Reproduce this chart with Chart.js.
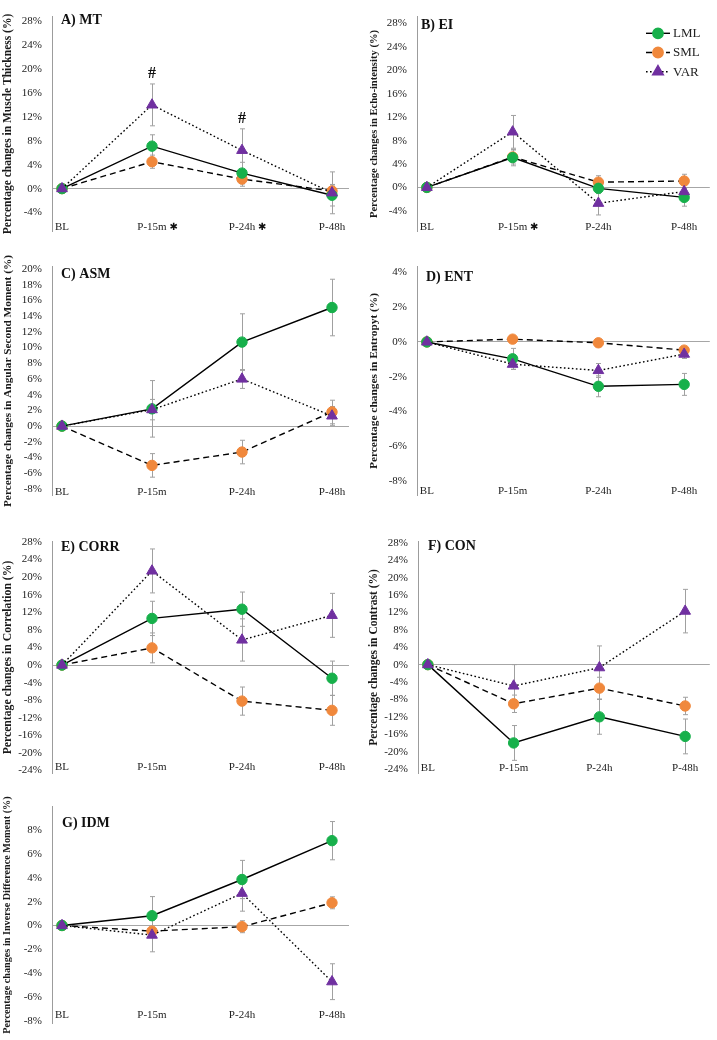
<!DOCTYPE html>
<html>
<head>
<meta charset="utf-8">
<script src="https://cdn.jsdelivr.net/npm/chart.js@4.4.1/dist/chart.umd.min.js"></script>
<style>
  html, body { margin: 0; padding: 0; background: #fff; }
  #wrap { position: relative; width: 717px; height: 1040px; overflow: hidden; }
  #wrap canvas { position: absolute; }
</style>
</head>
<body>
<div id="wrap">
  <canvas id="mt"></canvas>
  <canvas id="ei"></canvas>
  <canvas id="asm"></canvas>
  <canvas id="ent"></canvas>
  <canvas id="corr"></canvas>
  <canvas id="con"></canvas>
  <canvas id="idm"></canvas>
</div>
<script>
const timepoints = ['BL', 'P-15m', 'P-24h', 'P-48h'];
const seriesNames = ['LML', 'SML', 'VAR'];

// A) MT
const mtLML = [0, 7.1, 2.6, -1.1];
const mtSML = [0, 4.5, 1.6, -0.4];
const mtVAR = [0, 14.0, 6.4, -0.7];
const mtErrLML = [0, 1.9, 1.8, 1.8];
const mtErrSML = [0, 1.1, 1.2, 1.0];
const mtErrVAR = [0, 3.5, 3.6, 3.5];
const mtHashAt = [1, 2];
const mtHashY = [19.2, 11.6];
const mtStars = [1, 2];

// B) EI
const eiLML = [0, 5.1, -0.15, -1.7];
const eiSML = [0, 5.2, 0.9, 1.1];
const eiVAR = [0, 9.5, -2.7, -0.7];
const eiErrLML = [0, 1.4, 0.9, 1.5];
const eiErrSML = [0, 1.2, 1.1, 1.15];
const eiErrVAR = [0, 2.8, 2.0, 0.5];
const eiStars = [1];

// C) ASM
const asmLML = [0, 2.2, 10.7, 15.1];
const asmSML = [0, -5.0, -3.3, 1.8];
const asmVAR = [0, 2.1, 6.0, 1.3];
const asmErrLML = [0, 3.6, 3.6, 3.6];
const asmErrSML = [0, 1.5, 1.5, 1.5];
const asmErrVAR = [0, 1.3, 1.2, 1.2];

// D) ENT
const entLML = [0, -0.97, -2.55, -2.44];
const entSML = [0, 0.16, -0.05, -0.47];
const entVAR = [0, -1.28, -1.64, -0.7];
const entErrLML = [0, 0.6, 0.6, 0.63];
const entErrSML = [0, 0.1, 0.1, 0.1];
const entErrVAR = [0, 0.3, 0.4, 0.25];

// E) CORR
const corrLML = [0, 10.6, 12.7, -3.0];
const corrSML = [0, 3.9, -8.2, -10.3];
const corrVAR = [0, 21.4, 5.7, 11.3];
const corrErrLML = [0, 3.9, 3.9, 3.9];
const corrErrSML = [0, 3.4, 3.2, 3.4];
const corrErrVAR = [0, 5.0, 4.8, 5.0];

// F) CON
const conLML = [0, -18.0, -12.0, -16.5];
const conSML = [0, -9.0, -5.4, -9.5];
const conVAR = [0, -4.9, -0.7, 12.3];
const conErrLML = [0, 4.0, 4.0, 4.0];
const conErrSML = [0, 2.0, 2.5, 2.0];
const conErrVAR = [0, 4.9, 5.0, 5.0];

// G) IDM
const idmLML = [0, 0.82, 3.85, 7.1];
const idmSML = [0, -0.47, -0.1, 1.9];
const idmVAR = [0, -0.8, 2.7, -4.7];
const idmErrLML = [0, 1.6, 1.6, 1.6];
const idmErrSML = [0, 0.3, 0.5, 0.5];
const idmErrVAR = [0, 1.4, 1.5, 1.5];

const SERIF = "'Liberation Serif', 'Times New Roman', serif";
const GREEN = '#17b04b';
const ORANGE = '#f0883c';
const PURPLE = '#7030a0';

// error bars, panel title, # marks, asterisks and legend
const decoPlugin = {
  id: 'deco',
  beforeDatasetsDraw(chart) {
    const ctx = chart.ctx;
    const y = chart.scales.y;
    ctx.save();
    ctx.strokeStyle = '#a0a0a0';
    ctx.lineWidth = 1;
    chart.data.datasets.forEach((ds, di) => {
      const meta = chart.getDatasetMeta(di);
      meta.data.forEach((pt, i) => {
        const e = ds.errorBars[i];
        if (!e) return;
        const v = ds.data[i].y;
        const t = y.getPixelForValue(v + e);
        const b = y.getPixelForValue(v - e);
        const x = Math.round(pt.x) + 0.5;
        ctx.beginPath();
        ctx.moveTo(x, t); ctx.lineTo(x, b);
        ctx.moveTo(x - 2.5, t); ctx.lineTo(x + 2.5, t);
        ctx.moveTo(x - 2.5, b); ctx.lineTo(x + 2.5, b);
        ctx.stroke();
      });
    });
    ctx.restore();
  },
  afterDraw(chart, args, opts) {
    const ctx = chart.ctx;
    const area = chart.chartArea;
    const xs = chart.scales.x, ys = chart.scales.y;
    ctx.save();
    ctx.fillStyle = '#111';
    ctx.textBaseline = 'middle';
    ctx.textAlign = 'left';
    ctx.font = 'bold 14px ' + SERIF;
    ctx.fillText(opts.title, area.left + opts.tdx, area.top + opts.tdy);

    (opts.hashAt || []).forEach((idx, k) => {
      ctx.font = 'bold 16px ' + SERIF;
      ctx.textAlign = 'center';
      ctx.fillText('#', xs.getPixelForValue(idx), ys.getPixelForValue(opts.hashY[k]));
    });

    (opts.stars || []).forEach(idx => {
      ctx.font = '11px ' + SERIF;
      const w = ctx.measureText(timepoints[idx]).width;
      ctx.font = 'bold 10px DejaVu Sans';
      ctx.textAlign = 'center';
      ctx.fillText('\u2731', xs.getPixelForValue(idx) + w / 2 + 7, area.bottom - opts.labelUp);
    });

    if (opts.legend) {
      const L = opts.legend;
      chart.data.datasets.forEach((ds, i) => {
        const yy = L.y + i * 19.2;
        ctx.strokeStyle = '#000';
        ctx.lineWidth = ds.borderWidth;
        ctx.setLineDash(ds.borderDash || []);
        ctx.beginPath();
        ctx.moveTo(L.x, yy); ctx.lineTo(L.x + 24, yy);
        ctx.stroke();
        ctx.setLineDash([]);
        ctx.fillStyle = ds.pointBackgroundColor;
        ctx.strokeStyle = ds.pointBackgroundColor;
        Chart.helpers.drawPoint(ctx, {pointStyle: ds.pointStyle, radius: ds.pointRadius, rotation: 0, borderWidth: 1}, L.x + 12, yy);
        ctx.fillStyle = '#222';
        ctx.font = '13px ' + SERIF;
        ctx.textAlign = 'left';
        ctx.fillText(ds.label, L.x + 27, yy + 0.5);
      });
    }
    ctx.restore();
  }
};

function toPts(vals) {
  return vals.map((v, i) => ({x: i, y: v}));
}

function panel(id, o) {
  const el = document.getElementById(id);
  el.width = o.w;
  el.height = o.h;
  el.style.left = o.x + 'px';
  el.style.top = o.y + 'px';

  const series = [
    {vals: o.lml, err: o.errLml, color: GREEN, dash: [], style: 'circle', r: 5.2, order: 1},
    {vals: o.sml, err: o.errSml, color: ORANGE, dash: [6, 4], style: 'circle', r: 5.2, order: 2},
    {vals: o.var, err: o.errVar, color: PURPLE, dash: [1.6, 2.4], style: 'triangle', r: 6.2, order: 0}
  ];
  const datasets = series.map((s, i) => ({
    label: seriesNames[i],
    data: toPts(s.vals),
    errorBars: s.err,
    borderColor: '#000',
    borderWidth: 1.4,
    borderDash: s.dash,
    pointStyle: s.style,
    pointRadius: s.r,
    pointBackgroundColor: s.color,
    pointBorderColor: s.color,
    pointBorderWidth: 1,
    tension: 0,
    order: s.order
  }));

  const right = o.x < 300 ? 349 : 714;
  const firstPt = o.axisW + 10;
  const unit = o.x < 300 ? 90 : 87;

  new Chart(el, {
    type: 'line',
    data: {datasets},
    plugins: [decoPlugin],
    options: {
      responsive: false,
      animation: false,
      events: [],
      layout: {padding: {top: o.padTop, right: o.w - (right - o.x), left: 0, bottom: 0}},
      plugins: {
        legend: {display: false},
        tooltip: {enabled: false},
        deco: {title: o.title, tdx: o.tdx, tdy: o.tdy, hashAt: o.hashAt, hashY: o.hashY,
               stars: o.stars, legend: o.legend, labelUp: o.labelUp}
      },
      scales: {
        x: {
          type: 'linear',
          min: -10 / unit,
          max: 3 + (right - o.x - firstPt - 3 * unit) / unit,
          grid: {display: false, drawTicks: false},
          border: {display: false},
          ticks: {
            // mirrored so the labels sit just inside the plot, above its bottom edge
            mirror: true,
            stepSize: 1, includeBounds: false, autoSkip: false, maxRotation: 0,
            padding: o.labelUp - 6.6, color: '#222', font: {family: SERIF, size: 11},
            callback: v => timepoints[v] ?? ''
          },
          afterFit: s => { s.height = o.xH; }
        },
        y: {
          min: o.yMin,
          max: o.yMax,
          grid: {
            drawTicks: false,
            lineWidth: 1,
            color: c => (c.tick && c.tick.value === 0 ? '#a6a6a6' : 'rgba(0,0,0,0)')
          },
          border: {display: true, color: '#9c9c9c', width: 1},
          ticks: {
            stepSize: o.step, includeBounds: false, padding: 10,
            color: '#222', font: {family: SERIF, size: 11},
            callback: v => v + '%'
          },
          title: {
            display: true, text: o.yTitle, color: '#1a1a1a',
            font: {family: SERIF, size: o.yTitleSize, weight: 'bold'},
            padding: {top: o.titlePad, bottom: 0}
          },
          afterFit: s => { s.width = o.axisW; }
        }
      }
    }
  });
}

panel('mt', {
  x: 0, y: 0, w: 358, h: 248, axisW: 52, padTop: 4, xH: 8, labelUp: 4,
  yMin: -7.15, yMax: 28.76, step: 4,
  lml: mtLML, sml: mtSML, var: mtVAR, errLml: mtErrLML, errSml: mtErrSML, errVar: mtErrVAR,
  yTitle: 'Percentage changes in Muscle Thickness (%)', yTitleSize: 11.5, titlePad: 1,
  title: 'A) MT', tdx: 9, tdy: 3.5, hashAt: mtHashAt, hashY: mtHashY, stars: mtStars
});

panel('ei', {
  x: 358, y: 0, w: 359, h: 248, axisW: 59, padTop: 4, xH: 6, labelUp: 4,
  yMin: -7.51, yMax: 29.19, step: 4,
  lml: eiLML, sml: eiSML, var: eiVAR, errLml: eiErrLML, errSml: eiErrSML, errVar: eiErrVAR,
  yTitle: 'Percentage changes in Echo-intensity (%)', yTitleSize: 10.6, titlePad: 9.6,
  title: 'B) EI', tdx: 4, tdy: 8.7, stars: eiStars, legend: {x: 288, y: 33.3}
});

panel('asm', {
  x: 0, y: 250, w: 358, h: 262, axisW: 52, padTop: 6, xH: 5, labelUp: 3,
  yMin: -8.82, yMax: 20.31, step: 2,
  lml: asmLML, sml: asmSML, var: asmVAR, errLml: asmErrLML, errSml: asmErrSML, errVar: asmErrVAR,
  yTitle: 'Percentage changes in Angular Second Moment (%)', yTitleSize: 11.3, titlePad: 1,
  title: 'C) ASM', tdx: 9, tdy: 7.7
});

panel('ent', {
  x: 358, y: 250, w: 359, h: 262, axisW: 59, padTop: 9, xH: 4, labelUp: 4,
  yMin: -8.82, yMax: 4.33, step: 2,
  lml: entLML, sml: entSML, var: entVAR, errLml: entErrLML, errSml: entErrSML, errVar: entErrVAR,
  yTitle: 'Percentage changes in Entropyt (%)', yTitleSize: 11.4, titlePad: 9.6,
  title: 'D) ENT', tdx: 9, tdy: 11
});

panel('corr', {
  x: 0, y: 525, w: 358, h: 265, axisW: 52, padTop: 14, xH: 5, labelUp: 6,
  yMin: -24.64, yMax: 28.07, step: 4,
  lml: corrLML, sml: corrSML, var: corrVAR, errLml: corrErrLML, errSml: corrErrSML, errVar: corrErrVAR,
  yTitle: 'Percentage changes in Correlation (%)', yTitleSize: 11.7, titlePad: 1,
  title: 'E) CORR', tdx: 9, tdy: 6
});

panel('con', {
  x: 358, y: 525, w: 359, h: 265, axisW: 60, padTop: 13, xH: 6, labelUp: 5,
  yMin: -25.0, yMax: 28.28, step: 4,
  lml: conLML, sml: conSML, var: conVAR, errLml: conErrLML, errSml: conErrSML, errVar: conErrVAR,
  yTitle: 'Percentage changes in Contrast (%)', yTitleSize: 11.5, titlePad: 9.6,
  title: 'F) CON', tdx: 10, tdy: 4.7
});

panel('idm', {
  x: 0, y: 790, w: 358, h: 250, axisW: 52, padTop: 6, xH: 2, labelUp: 8,
  yMin: -8.19, yMax: 9.95, step: 2,
  lml: idmLML, sml: idmSML, var: idmVAR, errLml: idmErrLML, errSml: idmErrSML, errVar: idmErrVAR,
  yTitle: 'Percentage changes in Inverse Difference Moment (%)', yTitleSize: 10.2, titlePad: 1,
  title: 'G) IDM', tdx: 10, tdy: 16.7
});
</script>
</body>
</html>
